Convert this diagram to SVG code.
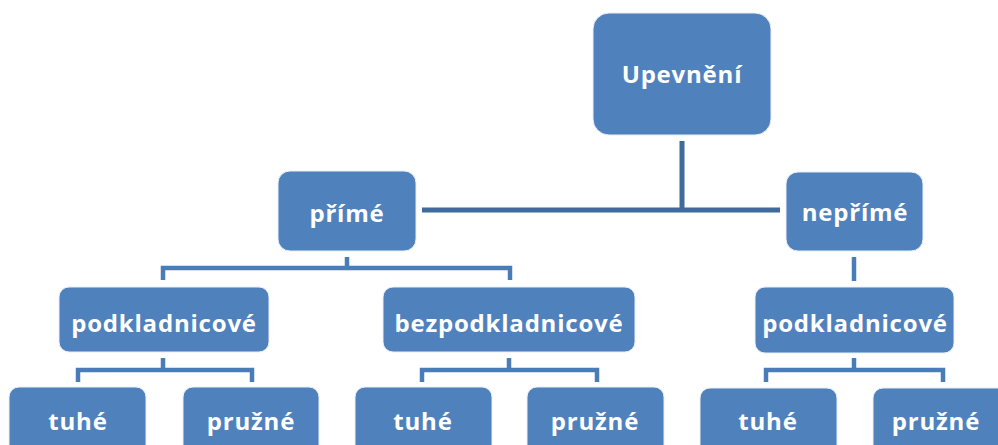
<svg xmlns="http://www.w3.org/2000/svg" width="998" height="445" viewBox="0 0 998 445">
<style>
.box{fill:#4F81BD;stroke:#E9EEF6;stroke-width:1}
.t{font-family:"Open Sans","Noto Sans",sans-serif;font-weight:bold;font-size:24px;letter-spacing:0.8px;fill:#FFFFFF;text-anchor:middle}
.c1{fill:none;stroke:#3F6A9C;stroke-width:5}
.c2{fill:none;stroke:#4A7CB8;stroke-width:4.5}
</style>
<rect width="998" height="445" fill="#FFFFFF"/>
<g id="connectors">
<path class="c1" d="M682,141 V210 M422,210 H780"/>
<path class="c2" d="M347,257 V268 M163,280 V268 H510 V280"/>
<path class="c2" d="M854,257 V281"/>
<path class="c2" d="M163,358 V370 M78,382 V370 H252 V382"/>
<path class="c2" d="M509,358 V370 M422,382 V370 H597 V382"/>
<path class="c2" d="M854,358 V370 M766,382 V370 H943 V382"/>
</g>
<g id="upevneni"><rect class="box" x="593" y="13" width="178" height="122" rx="16"/><text class="t" x="682" y="83">Upevnění</text></g>
<g id="prime"><rect class="box" x="278" y="171" width="138" height="80" rx="12"/><text class="t" x="347" y="222">přímé</text></g>
<g id="neprime"><rect class="box" x="786" y="172" width="137" height="79" rx="12"/><text class="t" x="855" y="221">nepřímé</text></g>
<g id="podkl1"><rect class="box" x="59" y="287" width="210" height="65" rx="10"/><text class="t" x="164" y="332">podkladnicové</text></g>
<g id="bezpodkl"><rect class="box" x="383" y="287" width="252" height="65" rx="10"/><text class="t" x="509" y="332">bezpodkladnicové</text></g>
<g id="podkl2"><rect class="box" x="755" y="287" width="199" height="66" rx="10"/><text class="t" x="855" y="332">podkladnicové</text></g>
<g id="tuhe1"><rect class="box" x="9" y="387" width="137" height="70" rx="10"/><text class="t" x="78" y="430">tuhé</text></g>
<g id="pruzne1"><rect class="box" x="183" y="387" width="136" height="70" rx="10"/><text class="t" x="251" y="430">pružné</text></g>
<g id="tuhe2"><rect class="box" x="355" y="387" width="137" height="70" rx="10"/><text class="t" x="423" y="430">tuhé</text></g>
<g id="pruzne2"><rect class="box" x="527" y="387" width="137" height="70" rx="10"/><text class="t" x="595" y="430">pružné</text></g>
<g id="tuhe3"><rect class="box" x="700" y="388" width="137" height="70" rx="10"/><text class="t" x="768" y="430">tuhé</text></g>
<g id="pruzne3"><rect class="box" x="873" y="388" width="137" height="70" rx="10"/><text class="t" x="936" y="430">pružné</text></g>
</svg>
